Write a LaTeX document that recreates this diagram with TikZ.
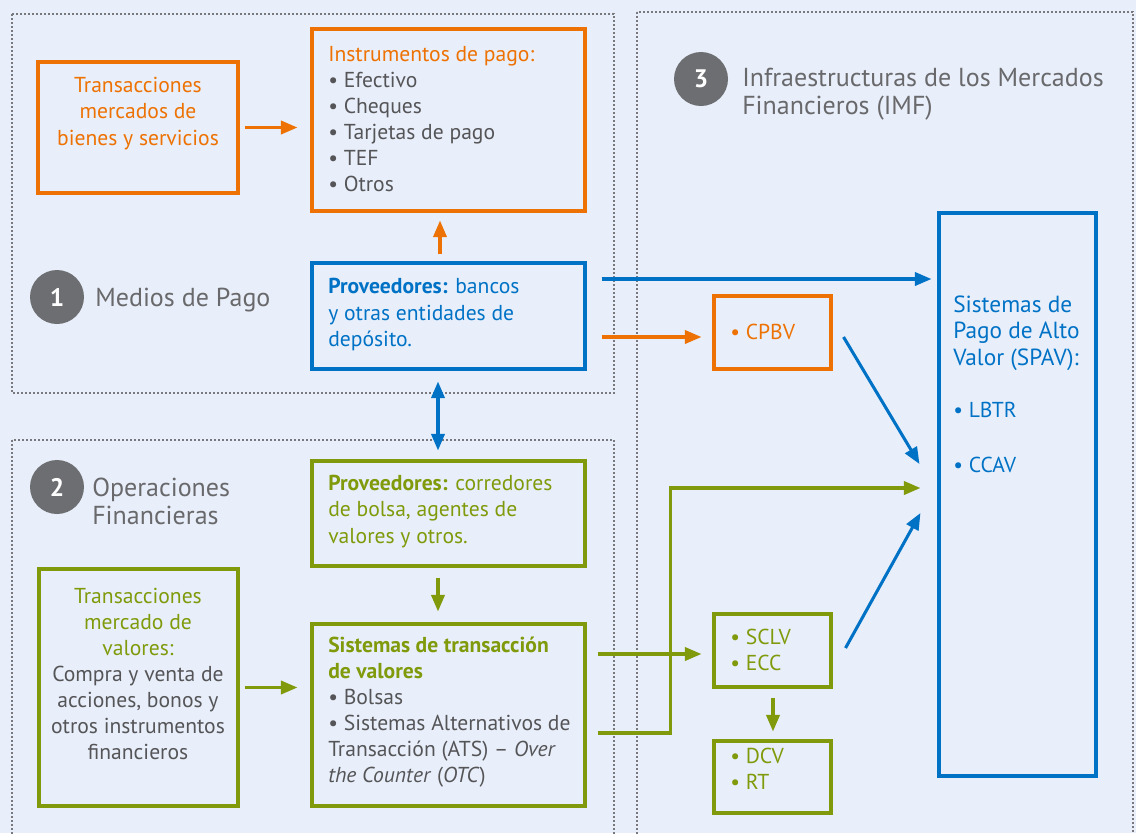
\documentclass[tikz,border=0pt]{standalone}
\usepackage{fontspec}
\setmainfont{PT Sans}
\usetikzlibrary{arrows.meta,calc}
\definecolor{bg}{RGB}{232,239,250}
\definecolor{org}{RGB}{238,114,3}
\definecolor{blu}{RGB}{0,114,198}
\definecolor{grn}{RGB}{128,154,12}
\definecolor{txt}{RGB}{85,85,88}
\definecolor{hdr}{RGB}{105,105,108}
\definecolor{circ}{RGB}{109,110,113}
\definecolor{dotc}{RGB}{120,120,125}
\begin{document}
\begin{tikzpicture}[x=0.75pt,y=-0.75pt,
  box/.style={draw=#1, line width=2.3pt, inner sep=0pt},
  tx/.style={inner sep=0pt, align=left, anchor=west, font=\fontsize{16.2}{19.6}\selectfont},
  hd/.style={inner sep=0pt, align=left, anchor=west, text=hdr, font=\fontsize{19.5}{21}\selectfont},
  num/.style={circle, fill=circ, minimum size=40.5pt, inner sep=0pt, text=white, font=\bfseries\fontsize{19}{19}\selectfont},
  arr/.style={line width=2.3pt, -{Triangle[length=12.5pt,width=10pt]}},
  dbl/.style={line width=2.3pt, {Triangle[length=12.5pt,width=10pt]}-{Triangle[length=12.5pt,width=10pt]}},
  zone/.style={draw=dotc, line width=1.4pt, dash pattern=on 1.4pt off 1.6pt}]
\useasboundingbox (0,0) rectangle (1136,833);
\fill[bg] (0,0) rectangle (1136,833);
\begin{scope}
\clip (0,0) rectangle (1136,833);
\draw[zone] (12,14) rectangle (614,393);
\draw[zone] (12,440) rectangle (614,850);
\draw[zone] (637,12) rectangle (1133,850);
\end{scope}

% boxes
\node[box=org, minimum width=150pt, minimum height=98.25pt] (trans1) at (138,127.5) {};
\node[box=org, minimum width=204.75pt, minimum height=136.5pt] (instr) at (448.5,120) {};
\node[box=blu, minimum width=204.75pt, minimum height=79.5pt] (prov1) at (448.5,316) {};
\node[box=grn, minimum width=204.75pt, minimum height=78.75pt] (prov2) at (448.5,513.5) {};
\node[box=grn, minimum width=149.25pt, minimum height=177.75pt] (trans2) at (138.5,687.5) {};
\node[box=grn, minimum width=204.75pt, minimum height=136.5pt] (sist) at (448.5,715) {};
\node[box=org, minimum width=87.75pt, minimum height=54.75pt] (cpbv) at (772.5,332.5) {};
\node[box=grn, minimum width=87.75pt, minimum height=54.75pt] (sclv) at (772.5,650.5) {};
\node[box=grn, minimum width=87.75pt, minimum height=54pt] (dcv) at (772.5,777) {};
\node[box=blu, minimum width=117.75pt, minimum height=422.25pt] (spav) at (1017.5,494.5) {};

% headers
\node[num] (c1) at (57,297) {1};
\node[hd] (h1) at (95,300) {Medios de Pago};
\node[num] (c2) at (57,487) {2};
\node[hd] (h2) at (92,501) {Operaciones\\Financieras};
\node[num] (c3) at (701,79) {3};
\node[hd] (h3) at (742,94) {Infraestructuras de los Mercados\\Financieros (IMF)};

% texts
\node[tx, anchor=center, align=center, text=org] (t1) at (138,113.5) {Transacciones\\mercados de\\bienes y servicios};
\node[tx, text=txt] (t2) at (328,119) {{\color{org}Instrumentos de pago:}\\• Efectivo\\• Cheques\\• Tarjetas de pago\\• TEF\\• Otros};
\node[tx, text=blu] (t3) at (328,314.5) {{\bfseries Proveedores:} bancos\\y otras entidades de\\depósito.};
\node[tx, text=grn] (t4) at (328,511.5) {{\bfseries Proveedores:} corredores\\de bolsa, agentes de\\valores y otros.};
\node[tx, anchor=center, align=center, text=txt] (t5) at (138,674) {{\color{grn}Transacciones}\\{\color{grn}mercado de}\\{\color{grn}valores:}\\Compra y venta de\\acciones, bonos y\\otros instrumentos\\financieros};
\node[tx, text=txt] (t6) at (328,712) {{\color{grn}\bfseries Sistemas de transacción}\\{\color{grn}\bfseries de valores}\\• Bolsas\\• Sistemas Alternativos de\\Transacción (ATS) – \emph{Over}\\\emph{the Counter} (\emph{OTC})};
\node[tx, text=org] (t7) at (730,332) {• CPBV};
\node[tx, text=grn] (t8) at (730,650) {• SCLV\\• ECC};
\node[tx, text=grn] (t9) at (730,769) {• DCV\\• RT};
\node[tx, text=blu, font=\fontsize{17.5}{20}\selectfont] (t10) at (953,333) {Sistemas de\\Pago de Alto\\Valor (SPAV):};
\node[tx, text=blu] (t11) at (953,410) {• LBTR};
\node[tx, text=blu] (t12) at (953,465) {• CCAV};

% connectors
\draw[arr, org, shorten <=3.75pt, shorten >=9.75pt] (trans1.east) -- (trans1.east -| instr.west);
\draw[arr, org, shorten <=5.25pt, shorten >=6pt] ($(prov1.north)+(-8.5,0)$) -- ($(instr.south)+(-8.5,0)$);
\draw[dbl, blu, shorten <=8.25pt, shorten >=6.75pt] ($(prov1.south)+(-10.5,0)$) -- ($(prov2.north)+(-10.5,0)$);
\draw[arr, grn, shorten <=7.5pt, shorten >=8.25pt] ($(prov2.south)+(-10.5,0)$) -- ($(sist.north)+(-10.5,0)$);
\draw[arr, grn, shorten <=3.75pt, shorten >=9.75pt] (trans2.east) -- (trans2.east -| sist.west);
\coordinate (s1) at ($(prov1.east)+(15,-37)$);
\draw[arr, blu, shorten >=4.5pt] (s1) -- (s1 -| spav.west);
\coordinate (s2) at ($(prov1.east)+(15,21)$);
\draw[arr, org, shorten >=8.25pt] (s2) -- (s2 -| cpbv.west);
\draw[arr, blu] ($(cpbv.east)+(11,4.5)$) -- ($(spav.west)+(-18,-30.5)$);
\draw[arr, blu] ($(sclv.east)+(13,-2.5)$) -- ($(spav.west)+(-17,18.5)$);
\coordinate (s3) at ($(sist.east)+(11,-61)$);
\draw[arr, grn, shorten >=8.25pt] (s3) -- (s3 -| sclv.west);
\draw[arr, grn] ($(sist.east)+(11,18)$) -- ++(73,0) |- ($(spav.west)+(-17,-6.5)$);
\draw[arr, grn, shorten <=6.75pt, shorten >=6pt] ($(sclv.south)+(0.5,0)$) -- ($(dcv.north)+(0.5,0)$);
\end{tikzpicture}
\end{document}
